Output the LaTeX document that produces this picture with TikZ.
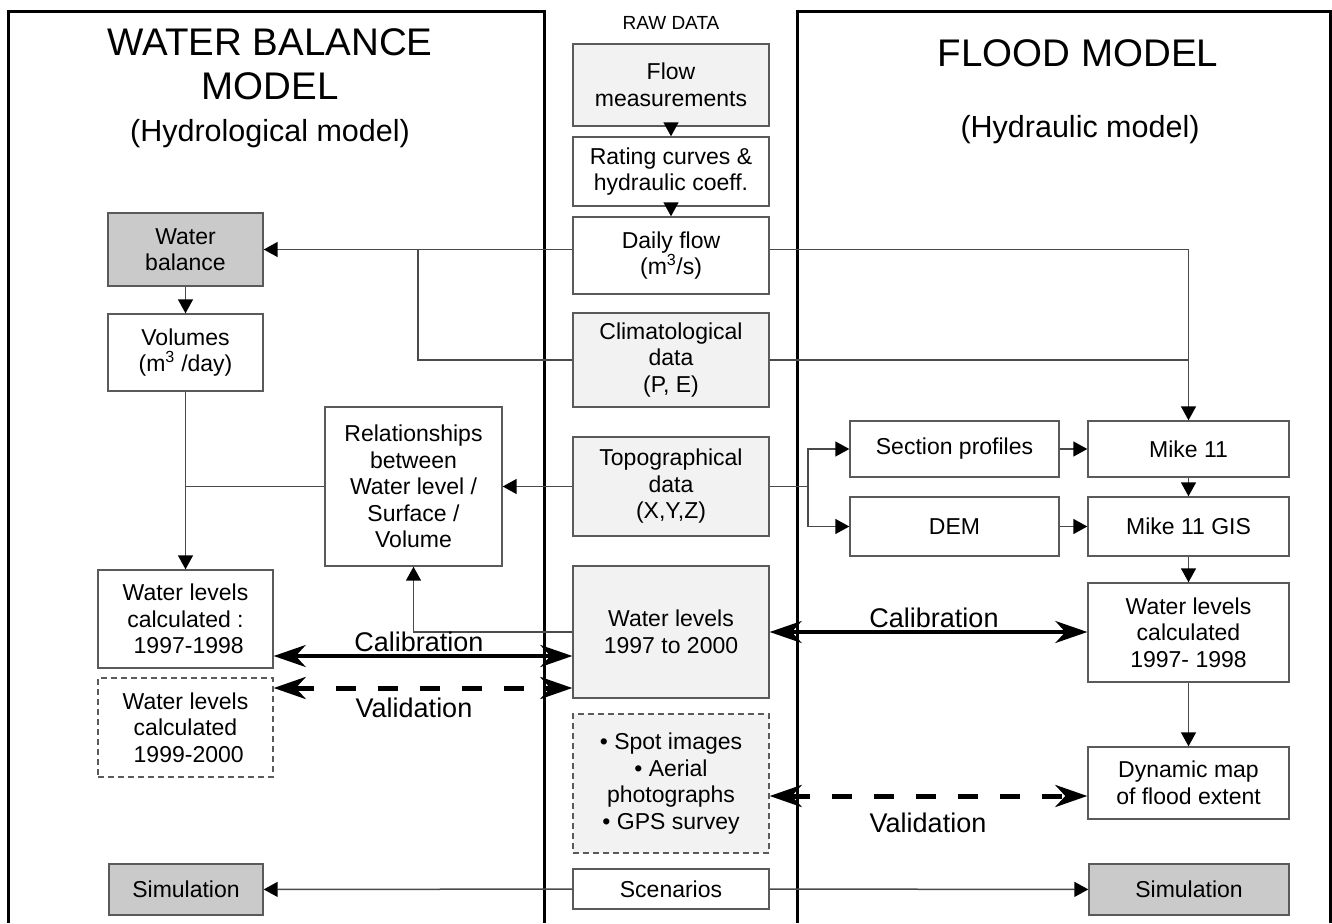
\documentclass[tikz,border=0pt]{standalone}
\usepackage{fontspec}
\setmainfont{Liberation Sans}
\usetikzlibrary{arrows.meta}
\definecolor{boxc}{HTML}{5A5A5A}
\definecolor{linec}{HTML}{4A4A4A}
\definecolor{lightc}{HTML}{F2F2F2}
\definecolor{darkc}{HTML}{CACACA}
\begin{document}
\begin{tikzpicture}[x=1pt,y=-1pt,
  box/.style={draw=boxc, line width=1.4pt, fill=white, align=center, inner sep=0pt, font=\fontsize{23}{26.5}\selectfont, text=black},
  light/.style={box, fill=lightc},
  dark/.style={box, fill=darkc},
  dbox/.style={dash pattern=on 6pt off 4pt},
  conn/.style={draw=linec, line width=1.5pt},
  arr/.style={conn, -{Triangle[length=14pt,width=15pt,color=black]}},
  calib/.style={draw=black, line width=3.5pt, {Stealth[length=32pt,width=22pt,inset=10pt]}-{Stealth[length=32pt,width=22pt,inset=10pt]}},
  valid/.style={calib, line width=5pt, dash pattern=on 20pt off 22pt},
  panel/.style={draw=black, line width=3pt},
  lab/.style={font=\fontsize{27}{30}\selectfont, inner sep=0pt},
  title/.style={font=\fontsize{38.5}{44}\selectfont, inner sep=0pt, align=center},
  sub/.style={font=\fontsize{30.5}{34}\selectfont, inner sep=0pt}
]
\useasboundingbox (0,0) rectangle (1332,923);
\fill[white] (0,0) rectangle (1332,923);

% panels
\draw[panel] (8,923) -- (8,12) -- (544,12) -- (544,923);
\draw[panel] (797,923) -- (797,12) -- (1330,12) -- (1330,923);

% titles
\node[title] (t1) at (270,64) {WATER BALANCE\\MODEL};
\node[sub] (t1s) at (270,134) {(Hydrological model)};
\node[title] (t2) at (1078,53) {FLOOD MODEL};
\node[sub] (t2s) at (1080,130) {(Hydraulic model)};
\node[inner sep=0pt, font=\fontsize{19}{22}\selectfont] (raw) at (671,23) {RAW DATA};

% centre column
\node[light, minimum width=196pt, minimum height=82pt] (flow) at (671,85) {Flow\\measurements};
\node[box, minimum width=196pt, minimum height=69pt] (rating) at (671,171.5) {Rating curves \&\\hydraulic coeff.};
\node[box, minimum width=196pt, minimum height=77pt] (daily) at (671,255.5) {Daily flow\\(m\textsuperscript{3}/s)};
\node[light, minimum width=196pt, minimum height=94pt] (clim) at (671,360) {Climatological\\data\\(P, E)};
\node[light, minimum width=196pt, minimum height=99pt] (topo) at (671,486.5) {Topographical\\data\\(X,Y,Z)};
\node[light, minimum width=196pt, minimum height=132pt] (wl) at (671,632) {Water levels\\1997 to 2000};
\node[light, dbox, minimum width=196pt, minimum height=139pt] (spot) at (671,783.5) {• Spot images\\• Aerial\\photographs\\• GPS survey};
\node[box, minimum width=196pt, minimum height=40pt] (scen) at (671,889) {Scenarios};

% left column
\node[dark, minimum width=155pt, minimum height=73pt] (wb) at (185.5,249.5) {Water\\balance};
\node[box, minimum width=155pt, minimum height=77pt] (vol) at (185.5,352.5) {Volumes\\(m\textsuperscript{3} /day)};
\node[box, minimum width=177pt, minimum height=159pt] (rel) at (413.5,486.5) {Relationships\\between\\Water level /\\Surface /\\Volume};
\node[box, minimum width=175pt, minimum height=98pt] (wlcl) at (185.5,619) {Water levels\\calculated :\\\ 1997-1998};
\node[box, dbox, minimum width=175pt, minimum height=99pt] (wlcl2) at (185.5,727.5) {Water levels\\calculated\\\ 1999-2000};
\node[dark, minimum width=154pt, minimum height=51pt] (siml) at (186,889.5) {Simulation};

% right column
\node[box, minimum width=209pt, minimum height=56pt] (secp) at (954.5,449) {Section profiles};
\node[box, minimum width=209pt, minimum height=59pt] (dem) at (954.5,526.5) {DEM};
\node[box, minimum width=201pt, minimum height=56pt] (mike) at (1188.5,449) {Mike 11};
\node[box, minimum width=201pt, minimum height=59pt] (mgis) at (1188.5,526.5) {Mike 11 GIS};
\node[box, minimum width=201pt, minimum height=99pt] (wlcr) at (1188.5,632.5) {Water levels\\calculated\\1997- 1998};
\node[box, minimum width=201pt, minimum height=72pt] (dyn) at (1188.5,783) {Dynamic map\\of flood extent};
\node[dark, minimum width=200pt, minimum height=51pt] (simr) at (1189,889.5) {Simulation};

% helper coordinates
\coordinate (b1) at (418,249.5);
\coordinate (b2) at (808,486.5);
\coordinate (calL) at (0,656);
\coordinate (valL) at (0,688);
\coordinate (valR) at (0,796);

% connectors
\draw[arr] (flow) -- (rating);
\draw[arr] (rating) -- (daily);
\draw[arr] (daily.west |- wb.east) -- (wb.east);
\draw[conn] (b1) |- (clim.west);
\draw[arr] (daily.east |- wb.east) -| (mike.north);
\draw[conn] (clim.east) -- (clim.east -| mike.north);
\draw[arr] (topo.west) -- (rel.east);
\draw[conn] (topo.east) -- (b2);
\draw[arr] (b2) |- (secp.west);
\draw[arr] (b2) |- (dem.west);
\draw[arr] (secp) -- (mike);
\draw[arr] (dem) -- (mgis);
\draw[arr] (mike) -- (mgis);
\draw[arr] (mgis) -- (wlcr);
\draw[arr] (wlcr) -- (dyn);
\draw[arr] (wb) -- (vol);
\draw[arr] (vol) -- (wlcl);
\draw[conn] (rel.west) -- (rel.west -| vol.south);
\draw[arr] (wl.west) -| (rel.south);
\draw[arr] (scen) -- (siml);
\draw[arr] (scen) -- (simr);

% calibration / validation
\draw[calib] (wlcl.east |- calL) -- (wl.west |- calL);
\draw[valid] (wlcl.east |- valL) -- (wl.west |- valL);
\draw[calib] (wl.east) -- (wl.east -| wlcr.west);
\draw[valid] (spot.east |- valR) -- (dyn.west |- valR);

\node[lab] (lcal) at (419,642) {Calibration};
\node[lab] (lval) at (414,708) {Validation};
\node[lab] (rcal) at (934,618) {Calibration};
\node[lab] (rval) at (928,823) {Validation};
\end{tikzpicture}
\end{document}
